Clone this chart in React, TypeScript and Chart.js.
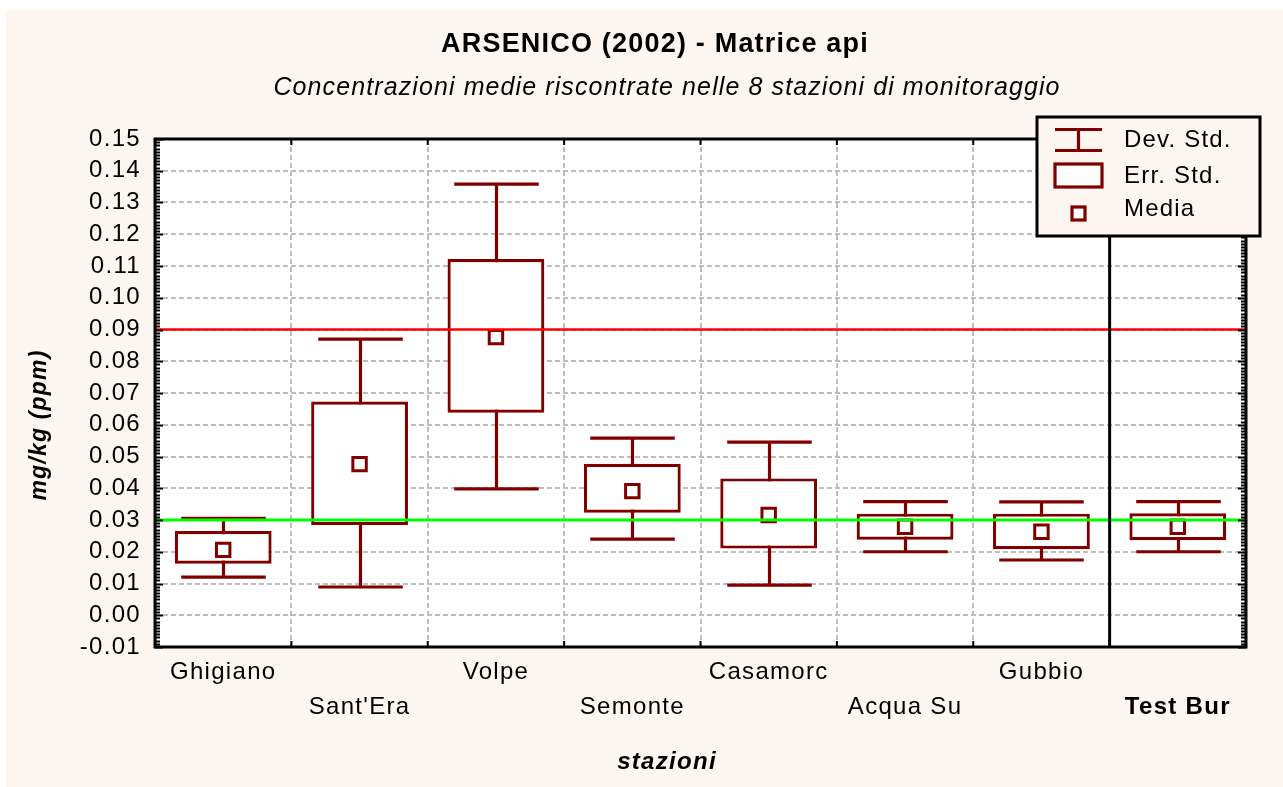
import React, { useEffect, useRef } from "react";
import { Chart, registerables } from "chart.js";

Chart.register(...registerables);

// ---------- data ----------
const stations = ["Ghigiano", "Sant'Era", "Volpe", "Semonte", "Casamorc", "Acqua Su", "Gubbio", "Test Bur"];
const boldStations = ["Test Bur"];
const means = [0.0206, 0.0476, 0.0876, 0.0391, 0.0316, 0.0279, 0.0263, 0.0279];
const errLow = [0.0162, 0.0284, 0.0638, 0.0323, 0.021, 0.0238, 0.0208, 0.0236];
const errHigh = [0.0265, 0.0673, 0.1122, 0.0477, 0.0431, 0.032, 0.032, 0.0321];
const devLow = [0.012, 0.0089, 0.0398, 0.024, 0.0095, 0.02, 0.0174, 0.02];
const devHigh = [0.0305, 0.087, 0.1358, 0.0558, 0.0545, 0.0358, 0.0357, 0.0358];
const yMin = -0.01;
const yMax = 0.15;
const yStep = 0.01;
const yMinorStep = 0.001;
const referenceValues = [0.09, 0.03];
const referenceColors = ["#ff0000", "#00ff00"];
const legendLabels = ["Dev. Std.", "Err. Std.", "Media"];
const titleText = "ARSENICO (2002) - Matrice api";
const subtitleText = "Concentrazioni medie riscontrate nelle 8 stazioni di monitoraggio";
const xTitleText = "stazioni";
const yTitleText = "mg/kg (ppm)";

// ---------- styles ----------
const FONT = "'Liberation Sans', Arial, sans-serif";
const DARK = "#800000";
const BG = "#fdf6f0";
const GRID = "#bdbdbd";
const SPACING = 1.3;

function setSpacing(ctx: any, px: number) {
  ctx.letterSpacing = px + "px";
}

const decorPlugin = {
  id: "decor",
  beforeDraw(chart: any) {
    const ctx = chart.ctx;
    setSpacing(ctx, SPACING);
    ctx.save();
    ctx.fillStyle = BG;
    ctx.fillRect(0, 0, chart.width, chart.height);
    const a = chart.chartArea;
    ctx.fillStyle = "#ffffff";
    ctx.fillRect(a.left, a.top, a.right - a.left, a.bottom - a.top);
    ctx.restore();
  },
  beforeDatasetsDraw(chart: any) {
    const ctx = chart.ctx;
    const x = chart.scales.x;
    const y = chart.scales.y;
    const cw = x.getPixelForValue(1) - x.getPixelForValue(0);
    const capHalf = cw * 0.31;
    ctx.save();
    ctx.strokeStyle = DARK;
    ctx.lineWidth = 3.2;
    ctx.lineCap = "butt";
    stations.forEach((_, i) => {
      const cx = Math.round(x.getPixelForValue(i)) + 0.5;
      const yl = y.getPixelForValue(devLow[i]);
      const yh = y.getPixelForValue(devHigh[i]);
      ctx.beginPath();
      ctx.moveTo(cx, yl);
      ctx.lineTo(cx, yh);
      ctx.moveTo(cx - capHalf, yl);
      ctx.lineTo(cx + capHalf, yl);
      ctx.moveTo(cx - capHalf, yh);
      ctx.lineTo(cx + capHalf, yh);
      ctx.stroke();
    });
    ctx.restore();
  },
  afterDatasetsDraw(chart: any) {
    const ctx = chart.ctx;
    const a = chart.chartArea;
    const x = chart.scales.x;
    const y = chart.scales.y;
    const cw = x.getPixelForValue(1) - x.getPixelForValue(0);
    ctx.save();
    // reference lines
    referenceValues.forEach((v, i) => {
      const py = y.getPixelForValue(v);
      ctx.strokeStyle = referenceColors[i];
      ctx.lineWidth = i === 0 ? 2.5 : 3;
      ctx.beginPath();
      ctx.moveTo(a.left, py);
      ctx.lineTo(a.right, py);
      ctx.stroke();
    });
    // separator before the bold station
    const sepIndex = stations.findIndex((s) => boldStations.includes(s));
    if (sepIndex > 0) {
      const sx = x.getPixelForValue(sepIndex) - cw / 2;
      ctx.strokeStyle = "#000";
      ctx.lineWidth = 3;
      ctx.beginPath();
      ctx.moveTo(sx, a.top);
      ctx.lineTo(sx, a.bottom);
      ctx.stroke();
    }
    // tick marks (inward)
    ctx.strokeStyle = "#000";
    ctx.lineWidth = 2;
    const nMinor = Math.round((yMax - yMin) / yMinorStep);
    for (let k = 0; k <= nMinor; k++) {
      const v = yMin + k * yMinorStep;
      const py = Math.round(y.getPixelForValue(v)) + 0.5;
      const major = k % Math.round(yStep / yMinorStep) === 0;
      const len = major ? 8 : 5;
      ctx.beginPath();
      ctx.moveTo(a.left, py);
      ctx.lineTo(a.left + len, py);
      ctx.moveTo(a.right, py);
      ctx.lineTo(a.right - len, py);
      ctx.stroke();
    }
    for (let i = 1; i < stations.length; i++) {
      const bx = x.getPixelForValue(i) - cw / 2;
      ctx.beginPath();
      ctx.moveTo(bx, a.bottom);
      ctx.lineTo(bx, a.bottom - 6);
      ctx.moveTo(bx, a.top);
      ctx.lineTo(bx, a.top + 6);
      ctx.stroke();
    }
    // frame
    ctx.lineWidth = 3;
    ctx.strokeRect(a.left, a.top, a.right - a.left, a.bottom - a.top);
    ctx.restore();
  },
  afterDraw(chart: any) {
    const ctx = chart.ctx;
    ctx.save();
    ctx.fillStyle = "#000";
    ctx.textAlign = "center";
    ctx.textBaseline = "middle";
    // titles
    setSpacing(ctx, 1.2);
    ctx.font = `bold 27px ${FONT}`;
    ctx.fillText(titleText, 649, 35);
    setSpacing(ctx, 1.1);
    ctx.font = `italic 25px ${FONT}`;
    ctx.fillText(subtitleText, 661, 78);
    setSpacing(ctx, 1.3);
    ctx.font = `italic bold 24px ${FONT}`;
    ctx.fillText(xTitleText, 661, 752);
    ctx.save();
    ctx.translate(34, 415);
    ctx.rotate(-Math.PI / 2);
    setSpacing(ctx, 1.2);
    ctx.font = `italic bold 23px ${FONT}`;
    ctx.fillText(yTitleText, 0, 0);
    ctx.restore();

    // legend
    const lx = 1031, ly = 107, lw = 223, lh = 119;
    ctx.fillStyle = BG;
    ctx.fillRect(lx, ly, lw, lh);
    ctx.strokeStyle = "#000";
    ctx.lineWidth = 3;
    ctx.strokeRect(lx, ly, lw, lh);
    ctx.strokeStyle = DARK;
    ctx.lineWidth = 3.2;
    // dev std icon
    const ix0 = 1049, ix1 = 1096, icx = (ix0 + ix1) / 2;
    ctx.beginPath();
    ctx.moveTo(ix0, 119.5);
    ctx.lineTo(ix1, 119.5);
    ctx.moveTo(ix0, 140.5);
    ctx.lineTo(ix1, 140.5);
    ctx.moveTo(icx, 119.5);
    ctx.lineTo(icx, 140.5);
    ctx.stroke();
    // err std icon
    ctx.fillStyle = "#fff";
    ctx.fillRect(ix0, 154, ix1 - ix0, 23);
    ctx.strokeRect(ix0, 154, ix1 - ix0, 23);
    // media icon
    ctx.fillRect(icx - 6.5, 197, 13, 13);
    ctx.strokeRect(icx - 6.5, 197, 13, 13);
    ctx.fillStyle = "#000";
    ctx.textAlign = "left";
    ctx.font = `24px ${FONT}`;
    setSpacing(ctx, 1.2);
    ctx.fillText(legendLabels[0], 1118, 130);
    ctx.fillText(legendLabels[1], 1118, 166);
    ctx.fillText(legendLabels[2], 1118, 199);
    ctx.restore();
  },
};

export default function App() {
  const ref = useRef<HTMLCanvasElement>(null);
  useEffect(() => {
    const canvas = ref.current;
    if (!canvas) return;
    const boxData = stations.map((_, i) => [errLow[i], errHigh[i]]);
    const chart = new Chart(canvas, {
      type: "bar",
      data: {
        labels: stations,
        datasets: [
          {
            type: "bar",
            label: legendLabels[1],
            data: boxData as any,
            backgroundColor: "#ffffff",
            borderColor: DARK,
            borderWidth: 3.2,
            borderSkipped: false,
            categoryPercentage: 1,
            barPercentage: 0.71,
            order: 2,
          },
          {
            type: "line",
            label: legendLabels[2],
            data: means,
            showLine: false,
            pointStyle: "rect",
            pointRadius: 9.5,
            pointBorderWidth: 3,
            pointBackgroundColor: "#ffffff",
            pointBorderColor: DARK,
            order: 1,
          } as any,
        ],
      },
      options: {
        animation: false,
        responsive: true,
        maintainAspectRatio: false,
        events: [],
        layout: { padding: { top: 129, right: 37, bottom: 0, left: 0 } },
        plugins: {
          legend: { display: false },
          title: { display: false },
          tooltip: { enabled: false },
        },
        scales: {
          x: {
            type: "category",
            offset: true,
            grid: { offset: true, color: GRID, lineWidth: 2, drawTicks: false },
            border: { display: false, dash: [5, 3] },
            ticks: {
              autoSkip: false,
              maxRotation: 0,
              minRotation: 0,
              color: "#000",
              padding: 8,
              font: (c: any) => ({
                family: FONT,
                size: 24,
                lineHeight: 1.46,
                weight: boldStations.includes(stations[c.index]) ? "bold" : "normal",
              }),
              callback: (_v: any, i: number) => (i % 2 === 0 ? [stations[i], ""] : ["", stations[i]]),
            },
            afterFit: (s: any) => {
              s.height = 140;
            },
          },
          y: {
            min: yMin,
            max: yMax,
            grid: { color: GRID, lineWidth: 2, drawTicks: false },
            border: { display: false, dash: [5, 3] },
            ticks: {
              stepSize: yStep,
              autoSkip: false,
              color: "#000",
              padding: 14,
              font: { family: FONT, size: 24, lineHeight: 1 },
              callback: (v: any) => Number(v).toFixed(2),
            },
            afterFit: (s: any) => {
              s.width = 149;
            },
          },
        },
      },
      plugins: [decorPlugin],
    });
    return () => chart.destroy();
  }, []);

  return (
    <div style={{ position: "fixed", left: 6, top: 10, width: 1277, height: 777 }}>
      <canvas ref={ref} />
    </div>
  );
}
